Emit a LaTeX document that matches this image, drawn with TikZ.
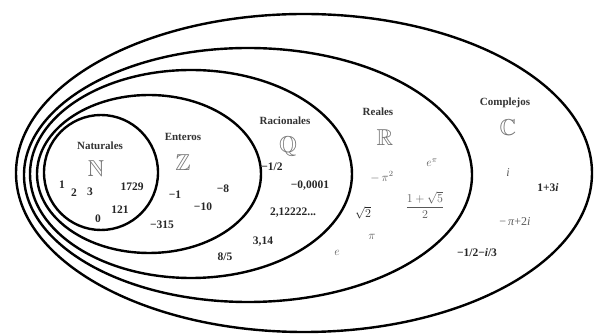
\documentclass[tikz,border=0pt]{standalone}
\usepackage{amsmath}
\usepackage{amssymb}
\usepackage{fontspec}
\setmainfont{Liberation Serif}
\begin{document}
\begin{tikzpicture}[x=1pt,y=-1pt,
  setline/.style={line width=2.4pt,black},
  lab/.style={inner sep=0pt,font=\fontsize{11}{13}\selectfont\bfseries,text=black!80},
  num/.style={inner sep=0pt,font=\fontsize{11.5}{13}\selectfont\bfseries,text=black!85},
  mth/.style={inner sep=0pt,font=\fontsize{12}{13}\selectfont,text=black!65},
  bb/.style={inner sep=0pt,font=\fontsize{23}{25}\selectfont,text=black!55}]
\useasboundingbox (0,0) rectangle (595,336);
% sets
\draw[setline] (304,173) ellipse [x radius=288pt, y radius=159pt];
\draw[setline] (248,175) ellipse [x radius=224pt, y radius=127pt];
\draw[setline] (191,174) ellipse [x radius=161pt, y radius=104pt];
\draw[setline] (149,174) ellipse [x radius=112pt, y radius=79pt];
\draw[setline] (101,172.5) ellipse [x radius=57pt, y radius=57.5pt];
% Naturales
\node[lab] (tnat) at (100,146) {Naturales};
\node[bb] (bbN) at (96,169) {$\mathbb{N}$};
\node[num] (n1) at (62,185) {1};
\node[num] (n2) at (74,193) {2};
\node[num] (n3) at (90,192) {3};
\node[num] (n1729) at (132,187) {1729};
\node[num] (n121) at (120,210) {121};
\node[num] (n0) at (98,219) {0};
% Enteros
\node[lab] (tent) at (183,137) {Enteros};
\node[bb] (bbZ) at (183,163) {$\mathbb{Z}$};
\node[num] (zm1) at (175,195) {−1};
\node[num] (zm8) at (223,189) {−8};
\node[num] (zm10) at (203,207) {−10};
\node[num] (zm315) at (162,225) {−315};
% Racionales
\node[lab] (trac) at (285,121) {Racionales};
\node[bb] (bbQ) at (288,146) {$\mathbb{Q}$};
\node[num] (qa) at (272,167) {−1/2};
\node[num] (qb) at (310,186) {−0,0001};
\node[num] (qc) at (293,213) {2,12222...};
\node[num] (qd) at (263,242) {3,14};
\node[num] (qe) at (225,257) {8/5};
% Reales
\node[lab] (treal) at (378,112) {Reales};
\node[bb] (bbR) at (385,138) {$\mathbb{R}$};
\node[mth] (ra) at (382,177) {$-\,\pi^2$};
\node[mth] (rb) at (432,163) {$e^{\pi}$};
\node[mth] (rc) at (425,205) {$\dfrac{1+\sqrt{5}}{2}$};
\node[mth,text=black!85] (rd) at (363,213) {$\sqrt{2}$};
\node[mth] (re) at (372,237) {$\pi$};
\node[mth] (rf) at (337,253) {$e$};
% Complejos
\node[lab] (tcom) at (505,103) {Complejos};
\node[bb] (bbC) at (508,128) {$\mathbb{C}$};
\node[mth] (ca) at (508,173) {\textit{i}};
\node[num] (cb) at (548,188) {1+3\textit{i}};
\node[mth] (cc) at (515,222) {−\,\textit{π}+2\textit{i}};
\node[num] (cd) at (477,253) {−1/2−\textit{i}/3};
\end{tikzpicture}
\end{document}
